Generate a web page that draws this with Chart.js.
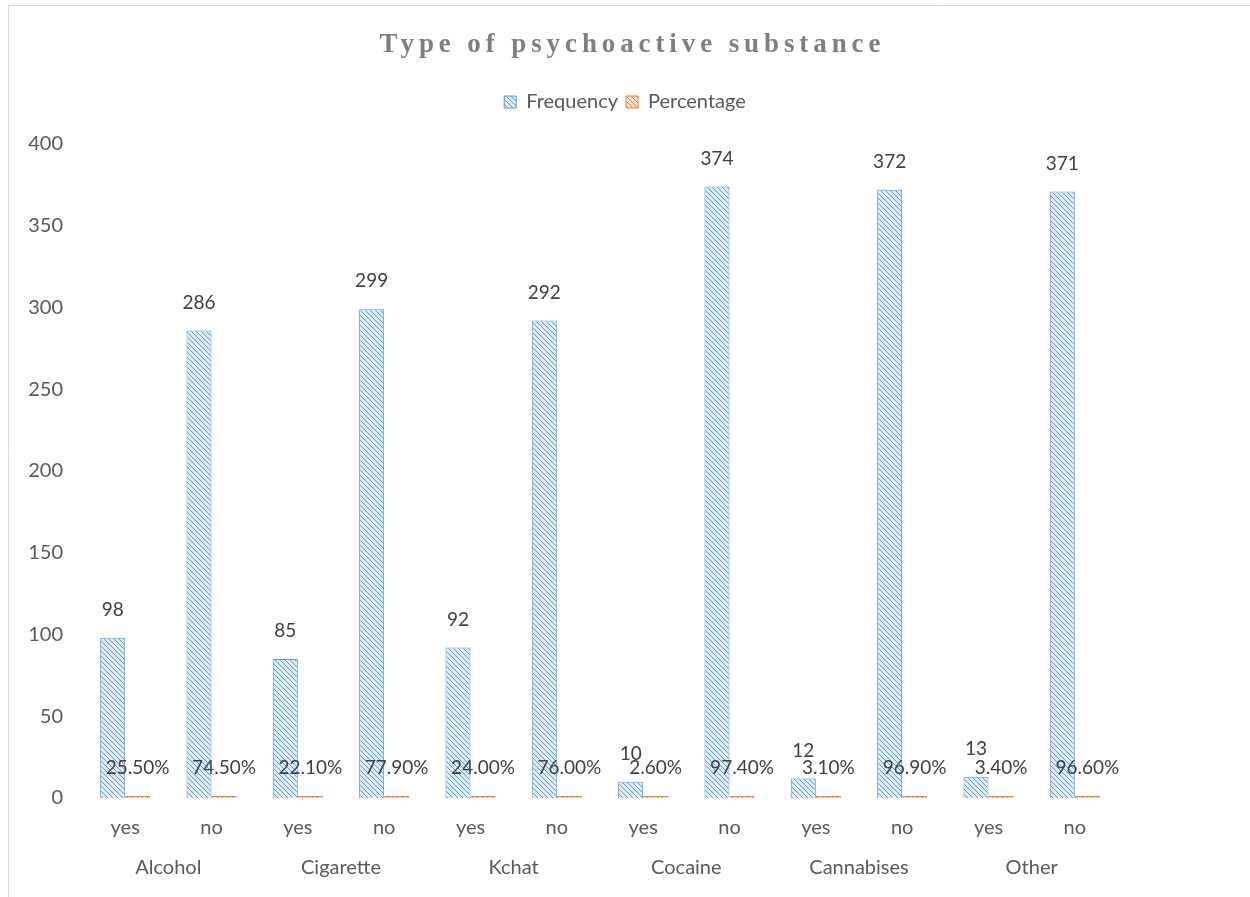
<!DOCTYPE html>
<html>
<head>
<meta charset="utf-8">
<script src="https://cdn.jsdelivr.net/npm/chart.js@4.4.1/dist/chart.umd.min.js"></script>
<style>
  html, body { margin: 0; padding: 0; background: #ffffff; }
  #wrap { position: relative; width: 1250px; height: 897px; }
</style>
</head>
<body>
<div id="wrap"><canvas id="c" width="1250" height="897"></canvas></div>
<script>
const chartTitle = 'Type of psychoactive substance';
const substances = ['Alcohol', 'Cigarette', 'Kchat', 'Cocaine', 'Cannabises', 'Other'];
const answers = ['yes', 'no', 'yes', 'no', 'yes', 'no', 'yes', 'no', 'yes', 'no', 'yes', 'no'];
const frequency = [98, 286, 85, 299, 92, 292, 10, 374, 12, 372, 13, 371];
const percentage = [0.255, 0.745, 0.221, 0.779, 0.240, 0.760, 0.026, 0.974, 0.031, 0.969, 0.034, 0.966];
const yTicks = [0, 50, 100, 150, 200, 250, 300, 350, 400];

const FONT = 'Lato';
const TXT = '#595959';
const AXIS_SIZE = 20;

function hatch(fill, line) {
  const s = 5;
  const cv = document.createElement('canvas');
  cv.width = s; cv.height = s;
  const x = cv.getContext('2d');
  x.fillStyle = fill; x.fillRect(0, 0, s, s);
  x.strokeStyle = line; x.lineWidth = 1;
  x.beginPath(); x.moveTo(-1, -1); x.lineTo(s + 1, s + 1); x.stroke();
  x.beginPath(); x.moveTo(-s - 1, -1); x.lineTo(1, s + 1); x.stroke();
  x.beginPath(); x.moveTo(s - 1, -1); x.lineTo(2 * s + 1, s + 1); x.stroke();
  return document.getElementById('c').getContext('2d').createPattern(cv, 'repeat');
}
const bluePat = hatch('#deebf7', '#5b9bd5');
const orangePat = hatch('#fbe5d6', '#ed7d31');

const framePlugin = {
  id: 'frame',
  afterInit(chart) {
    const lg = chart.legend;
    if (lg) {
      const origFit = lg.fit.bind(lg);
      lg.fit = function () { origFit(); this.height += 22; };
    }
  },
  afterLayout(chart) {
    const lg = chart.legend;
    if (lg) { lg.left = 0; lg.right = chart.width; lg.width = chart.width; }
  },
  beforeDraw(chart) {
    const ctx = chart.ctx;
    ctx.save();
    ctx.strokeStyle = '#d9d9d9';
    ctx.lineWidth = 1;
    ctx.beginPath();
    ctx.moveTo(8.5, 900); ctx.lineTo(8.5, 5.5); ctx.lineTo(1260, 5.5);
    ctx.stroke();
    ctx.font = 'bold 27px "Liberation Serif"';
    ctx.fillStyle = '#7f7f7f';
    ctx.textAlign = 'center';
    ctx.textBaseline = 'middle';
    ctx.letterSpacing = '4.9px';
    ctx.fillText(chartTitle, 630 + 2.45, 45);
    ctx.restore();
  }
};

const labelPlugin = {
  id: 'valueLabels',
  afterDatasetsDraw(chart) {
    const ctx = chart.ctx;
    ctx.save();
    ctx.font = '19px ' + FONT;
    ctx.fillStyle = '#404040';
    ctx.textAlign = 'center';
    ctx.textBaseline = 'middle';
    chart.data.datasets.forEach((ds, di) => {
      const meta = chart.getDatasetMeta(di);
      meta.data.forEach((el, i) => {
        const v = ds.data[i];
        const txt = di === 0 ? String(v) : (v * 100).toFixed(2) + '%';
        ctx.fillText(txt, el.x, el.y - 28);
      });
    });
    ctx.restore();
  }
};

new Chart(document.getElementById('c'), {
  type: 'bar',
  data: {
    labels: answers,
    datasets: [
      { label: 'Frequency', data: frequency, backgroundColor: bluePat, borderColor: '#5b9bd5', borderWidth: 1 },
      { label: 'Percentage', data: percentage, backgroundColor: orangePat, borderColor: '#ed7d31', borderWidth: 1, minBarLength: 2 }
    ]
  },
  options: {
    responsive: false,
    animation: false,
    categoryPercentage: 0.58,
    barPercentage: 1,
    layout: { padding: { top: 84, left: 8, right: 132, bottom: 9 } },
    plugins: {
      title: { display: false },
      tooltip: { enabled: false },
      legend: {
        position: 'top',
        labels: { font: { family: FONT, size: AXIS_SIZE }, color: TXT, boxWidth: 12, boxHeight: 12, padding: 8 }
      }
    },
    scales: {
      x: {
        weight: 0,
        grid: { display: false, drawTicks: false },
        border: { display: false },
        ticks: { font: { family: FONT, size: AXIS_SIZE }, color: TXT, padding: 18 },
        afterFit(s) { s.height = 50; }
      },
      x2: {
        type: 'category',
        position: 'bottom',
        weight: 1,
        labels: substances,
        offset: true,
        grid: { display: false, drawTicks: false },
        border: { display: false },
        ticks: { font: { family: FONT, size: AXIS_SIZE }, color: TXT, padding: 8 },
        afterFit(s) { s.height = 40; }
      },
      y: {
        min: 0, max: 400,
        grid: { display: false, drawTicks: false },
        border: { display: false },
        afterBuildTicks(s) { s.ticks = yTicks.map(v => ({ value: v })); },
        ticks: { font: { family: FONT, size: AXIS_SIZE }, color: TXT, padding: 19 },
        afterFit(s) { s.width = 74; }
      }
    }
  },
  plugins: [framePlugin, labelPlugin]
});
</script>
</body>
</html>
